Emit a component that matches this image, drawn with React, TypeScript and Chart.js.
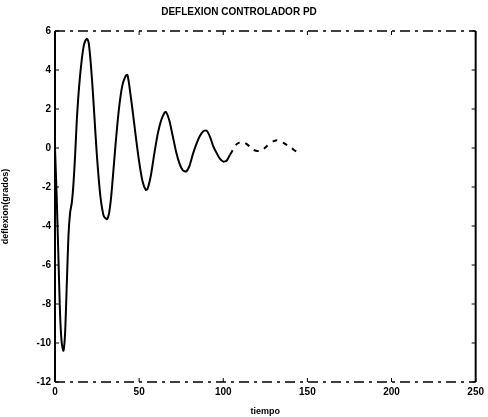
import React, { useEffect, useRef } from "react";
import { Chart, registerables } from "chart.js";

Chart.register(...registerables);

const TITLE = "DEFLEXION CONTROLADOR PD";
const X_LABEL = "tiempo";
const Y_LABEL = "deflexion(grados)";

const timeValues = [
  0, 1, 2, 3, 4, 5, 6, 7, 8, 9, 10, 11, 12, 13, 14, 15, 16, 17, 18, 19, 20,
  21, 22, 23, 24, 25, 26, 27, 28, 29, 30, 31, 32, 33, 34, 36, 38, 40, 42, 43,
  44, 46, 48, 50, 52, 54, 55, 57, 59, 61, 63, 65, 66, 68, 70, 72, 74, 76, 78,
  80, 82, 84, 86, 88, 90, 92, 94, 96, 98, 100, 102, 104, 106, 108, 110, 112,
  114, 116, 118, 120, 122, 124, 126, 128, 130, 132, 134, 136, 138, 140, 142,
  144, 145,
];

const deflexionValues = [
  0, -2.5, -5.5, -8.5, -10.0, -10.4, -9.5, -7.0, -4.5, -3.3, -2.8, -1.8, -0.3,
  1.5, 2.8, 3.8, 4.6, 5.2, 5.5, 5.6, 5.4, 4.6, 3.5, 2.2, 0.8, -0.5, -1.6, -2.5,
  -3.1, -3.5, -3.6, -3.65, -3.4, -2.8, -1.9, 0.2, 2.0, 3.2, 3.7, 3.75, 3.3, 2.0,
  0.6, -0.7, -1.7, -2.15, -2.1, -1.4, -0.3, 0.7, 1.4, 1.8, 1.85, 1.4, 0.6, -0.2,
  -0.8, -1.15, -1.2, -0.9, -0.3, 0.2, 0.6, 0.85, 0.9, 0.6, 0.1, -0.25, -0.55,
  -0.7, -0.65, -0.35, -0.05, 0.2, 0.3, 0.3, 0.2, 0.05, -0.1, -0.15, -0.15,
  -0.05, 0.1, 0.25, 0.35, 0.4, 0.35, 0.25, 0.15, 0.05, -0.1, -0.2, -0.25,
];

const xTicks = [0, 50, 100, 150, 200, 250];
const yTicks = [6, 4, 2, 0, -2, -4, -6, -8, -10, -12];

const FONT = "'Liberation Sans', Arial, sans-serif";

const boxPlugin = {
  id: "matlabBox",
  afterDraw(chart: any) {
    const { ctx, chartArea } = chart;
    const { left, right, top, bottom } = chartArea;
    ctx.save();
    ctx.strokeStyle = "#000";
    ctx.lineWidth = 2;
    ctx.beginPath();
    ctx.moveTo(left, top);
    ctx.lineTo(left, bottom);
    ctx.moveTo(right, top);
    ctx.lineTo(right, bottom);
    ctx.stroke();
    ctx.lineWidth = 1.5;
    ctx.setLineDash([10, 5, 3, 5]);
    ctx.beginPath();
    ctx.moveTo(left, top);
    ctx.lineTo(right, top);
    ctx.moveTo(left, bottom);
    ctx.lineTo(right, bottom);
    ctx.stroke();
    ctx.setLineDash([]);
    // inside ticks
    ctx.lineWidth = 1;
    const xs = chart.scales.x;
    const ys = chart.scales.y;
    xTicks.forEach((v) => {
      const px = xs.getPixelForValue(v);
      ctx.beginPath();
      ctx.moveTo(px, bottom);
      ctx.lineTo(px, bottom - 4);
      ctx.moveTo(px, top);
      ctx.lineTo(px, top + 4);
      ctx.stroke();
    });
    yTicks.forEach((v) => {
      const py = ys.getPixelForValue(v);
      ctx.beginPath();
      ctx.moveTo(left, py);
      ctx.lineTo(left + 4, py);
      ctx.moveTo(right, py);
      ctx.lineTo(right - 4, py);
      ctx.stroke();
    });
    ctx.restore();
  },
};

export default function App() {
  const ref = useRef<HTMLCanvasElement | null>(null);

  useEffect(() => {
    document.body.style.margin = "0";
    const canvas = ref.current;
    if (!canvas) return;
    const data = timeValues.map((t, i) => ({ x: t, y: deflexionValues[i] }));
    const chart = new Chart(canvas, {
      type: "line",
      data: {
        datasets: [
          {
            data,
            borderColor: "#000",
            borderWidth: 2,
            pointRadius: 0,
            tension: 0.2,
            segment: {
              borderDash: (c: any) => (c.p0.parsed.x >= 104 ? [5, 6] : undefined),
            },
          },
        ],
      },
      options: {
        animation: false,
        responsive: false,
        maintainAspectRatio: false,
        layout: { padding: { right: 10, left: 0, top: 0, bottom: 0 } },
        plugins: {
          legend: { display: false },
          tooltip: { enabled: false },
          title: {
            display: true,
            text: TITLE,
            color: "#000",
            font: { family: FONT, size: 10, weight: "bold" },
            padding: { top: 6, bottom: 13 },
          },
        },
        scales: {
          x: {
            type: "linear",
            min: 0,
            max: 250,
            afterBuildTicks: (s: any) => {
              s.ticks = xTicks.map((v) => ({ value: v }));
            },
            afterFit: (s: any) => {
              s.height = 35;
            },
            grid: { display: false, drawTicks: false },
            border: { display: false },
            ticks: {
              color: "#000",
              padding: 4,
              maxRotation: 0,
              font: { family: FONT, size: 10, weight: "bold" },
            },
            title: {
              display: true,
              text: X_LABEL,
              color: "#000",
              font: { family: FONT, size: 9, weight: "bold" },
              padding: { top: 2, bottom: 0 },
            },
          },
          y: {
            type: "linear",
            min: -12,
            max: 6,
            afterBuildTicks: (s: any) => {
              s.ticks = yTicks.map((v) => ({ value: v }));
            },
            afterFit: (s: any) => {
              s.width = 55;
            },
            grid: { display: false, drawTicks: false },
            border: { display: false },
            ticks: {
              color: "#000",
              padding: 4,
              font: { family: FONT, size: 10, weight: "bold" },
            },
            title: {
              display: true,
              text: Y_LABEL,
              color: "#000",
              font: { family: FONT, size: 9, weight: "bold" },
              padding: { top: 0, bottom: 8 },
            },
          },
        },
      },
      plugins: [boxPlugin],
    });
    return () => chart.destroy();
  }, []);

  return (
    <div style={{ position: "absolute", left: 0, top: 0, width: 488, height: 417, background: "#fff" }}>
      <canvas ref={ref} width={488} height={417} style={{ width: 488, height: 417 }} />
    </div>
  );
}
